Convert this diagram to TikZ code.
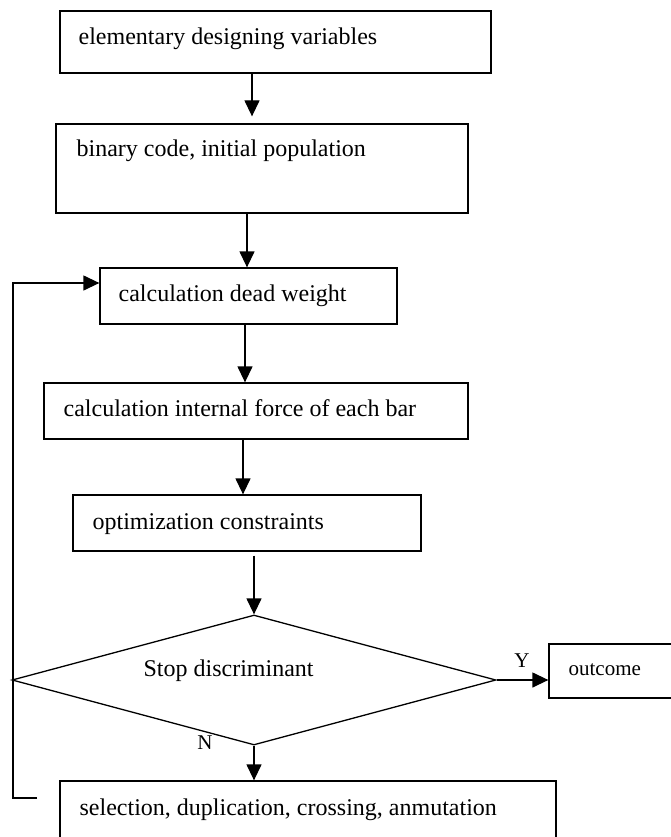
\documentclass[tikz,border=0pt]{standalone}
\usepackage{fontspec}
\setmainfont{Liberation Serif}
\usetikzlibrary{shapes.geometric}
\usetikzlibrary{arrows.meta}

\begin{document}
\begin{tikzpicture}[x=1pt, y=-1pt, line width=1.3pt,
    box/.style={draw, rectangle, inner sep=0pt},
    txt/.style={anchor=base west, inner sep=0pt, font=\fontsize{24}{28}\selectfont},
    small/.style={inner sep=0pt, font=\fontsize{21}{24}\selectfont},
    arr/.style={-{Triangle[length=16pt,width=15pt]}}]
    \useasboundingbox (0,0) rectangle (671,837);
    \node[box, minimum width=431, minimum height=62] (vars) at (275.5,42) {};
    \node[box, minimum width=412, minimum height=89] (code) at (262,168.5) {};
    \node[box, minimum width=297, minimum height=56] (weight) at (248.5,296) {};
    \node[box, minimum width=424, minimum height=56] (force) at (256,411) {};
    \node[box, minimum width=348, minimum height=56] (cons) at (247,523) {};
    \node[draw, diamond, minimum width=484, minimum height=130, inner sep=0pt] (stop) at (254,680) {};
    \node[box, minimum width=151, minimum height=54] (outcome) at (624.5,671) {};
    \node[box, minimum width=496, minimum height=79] (ops) at (308,820.5) {};
    \node[txt] (varstext) at (78,45) {elementary designing variables};
    \node[txt] (codetext) at (76,157) {binary code, initial population};
    \node[txt] (weighttext) at (118,301) {calculation dead weight};
    \node[txt] (forcetext) at (63,416) {calculation internal force of each bar};
    \node[txt] (constext) at (92,529) {optimization constraints};
    \node[txt] (stoptext) at (143,676) {Stop discriminant};
    \node[small, anchor=base west] (outcometext) at (568,675) {outcome};
    \node[txt] (opstext) at (79,815) {selection, duplication, crossing, anmutation};
    \node[small, anchor=base] (yes) at (522,667) {Y};
    \node[small, anchor=base] (no) at (205,749) {N};
    \coordinate (loopend) at (37,798);

    \draw[arr] ([xshift=-23.5pt]vars.south) -- ([xshift=-10pt,yshift=7pt]code.north);
    \draw[arr] ([xshift=-15pt]code.south) -- ([xshift=-1.5pt]weight.north);
    \draw[arr] ([xshift=-3.5pt]weight.south) -- ([xshift=-11pt]force.north);
    \draw[arr] ([xshift=-13pt]force.south) -- ([xshift=-4pt]cons.north);
    \draw[arr] ([xshift=7pt,yshift=-4pt]cons.south) -- (stop.north);
    \draw[arr] (stop.east) -- (stop.east -| outcome.west);
    \draw[arr] (stop.south) -- (stop.south |- ops.north);
    \draw[arr] (loopend) -- ++(-24,0) |- ([yshift=13pt]weight.west);
\end{tikzpicture}
\end{document}
